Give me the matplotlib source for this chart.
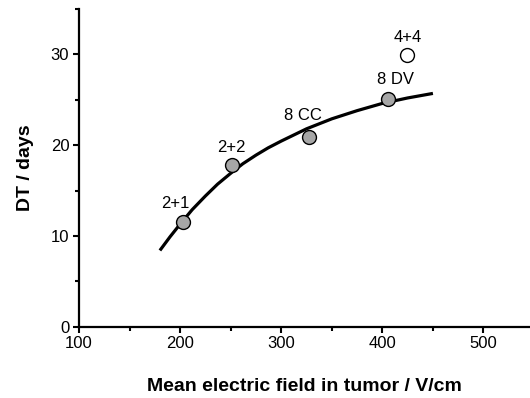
import matplotlib
matplotlib.use("Agg")
import matplotlib.pyplot as plt
from matplotlib.ticker import MultipleLocator

plt.rcParams['font.family'] = ['Liberation Sans', 'DejaVu Sans']

# measured groups (filled) and the outlier (open)
labels = ["2+1", "2+2", "8 CC", "8 DV"]
field = [202.7, 251, 327, 405.6]
dt = [11.5, 17.8, 20.95, 25.1]
label_offsets = [(-8, 19), (0, 18), (-6, 21), (7, 19)]

open_label = "4+4"
open_field = [424.7]
open_dt = [29.95]

# fitted curve
curve_x = [180, 190, 200, 212, 225, 237, 250, 262, 275, 287, 300,
           325, 350, 375, 400, 425, 450]
curve_y = [8.4, 9.9, 11.3, 12.9, 14.4, 15.7, 16.9, 17.95, 18.9, 19.7, 20.45,
           21.8, 22.9, 23.8, 24.6, 25.2, 25.7]

fig = plt.figure(figsize=(5.30, 3.98), dpi=100)
ax = fig.add_axes([79 / 530, 71.3 / 398, 1 - 79 / 530, (398 - 9 - 71.3) / 398])

ax.plot(curve_x, curve_y, color='black', lw=2.3, solid_capstyle='butt',
        solid_joinstyle='round', zorder=2)
ax.plot(field, dt, 'o', ms=10, mfc='#a6a6a6', mec='black', mew=1.0, zorder=3)
ax.plot(open_field, open_dt, 'o', ms=10, mfc='white', mec='black', mew=1.0, zorder=3)

for lab, x, y, off in zip(labels, field, dt, label_offsets):
    ax.annotate(lab, (x, y), xytext=off, textcoords='offset pixels',
                ha='center', va='center', fontsize=12)
ax.annotate(open_label, (open_field[0], open_dt[0]), xytext=(0, 17),
            textcoords='offset pixels', ha='center', va='center', fontsize=12)

ax.set_xlim(100, 546)
ax.set_ylim(0, 35)
ax.xaxis.set_major_locator(MultipleLocator(100))
ax.xaxis.set_minor_locator(MultipleLocator(50))
ax.yaxis.set_major_locator(MultipleLocator(10))
ax.yaxis.set_minor_locator(MultipleLocator(5))
ax.set_yticks([0, 10, 20, 30])

for s in ['top', 'right']:
    ax.spines[s].set_visible(False)
for s in ['left', 'bottom']:
    ax.spines[s].set_linewidth(1.6)
ax.tick_params(which='major', length=4, width=1.5, labelsize=12, pad=3)
ax.tick_params(which='minor', length=3, width=1.5)

ax.set_xlabel("Mean electric field in tumor / V/cm", fontsize=14, fontweight='bold', labelpad=19)
ax.set_ylabel("DT / days", fontsize=14, fontweight='bold', labelpad=12)

fig.savefig("out.png", dpi=100)
